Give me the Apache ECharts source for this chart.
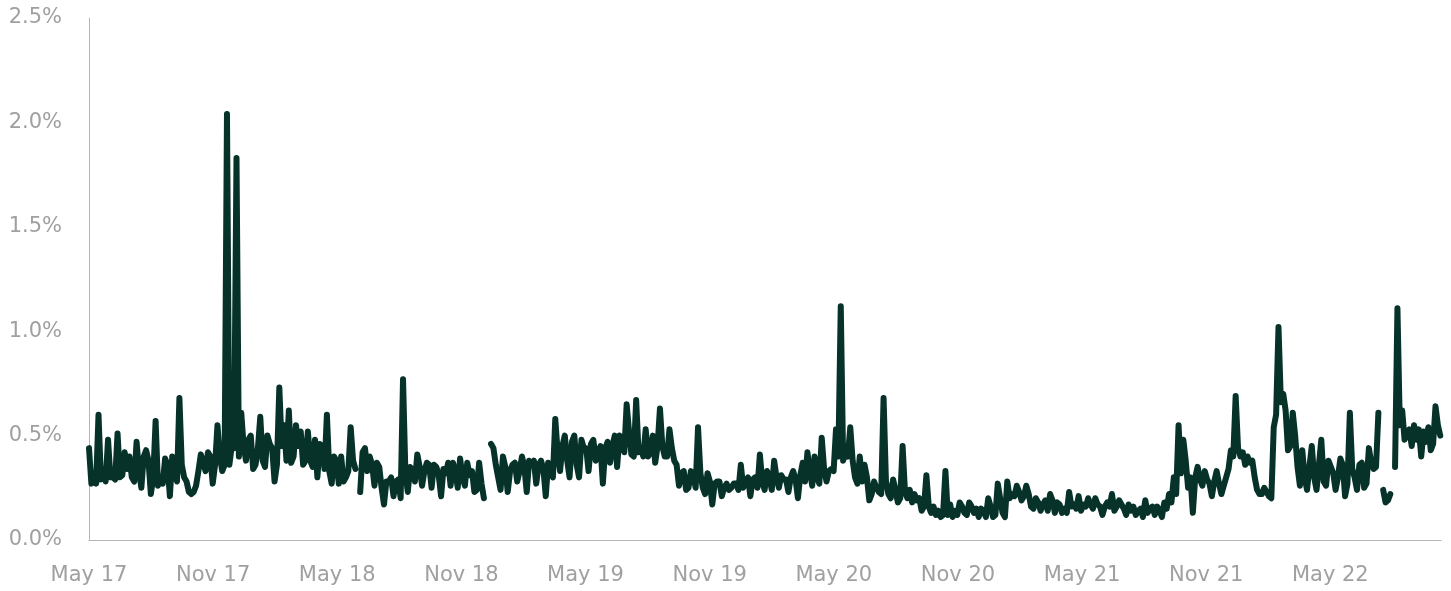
<!DOCTYPE html>
<html>
<head>
<meta charset="utf-8">
<script src="https://cdn.jsdelivr.net/npm/echarts@6/dist/echarts.min.js"></script>
<style>
  html, body { margin: 0; padding: 0; background: #fff; }
  #main { width: 1451px; height: 591px; }
</style>
</head>
<body>
<div id="main"></div>
<script>
// readings in %, one at the start of each week from 1 May 2017
var startDate = '2017-05-01'
var stepDays = 7
var values = [
    0.44, 0.32, 0.60, 0.34, 0.48, 0.30, 0.51, 0.31, 0.34, 0.30,
    0.47, 0.25, 0.43, 0.22, 0.57, 0.30, 0.39, 0.21, 0.32, 0.68,
    0.30, 0.23, 0.23, 0.33, 0.37, 0.42, 0.27, 0.55, 0.33, 2.04,
    0.45, 1.83, 0.61, 0.38, 0.50, 0.36, 0.59, 0.35, 0.46, 0.28,
    0.73, 0.55, 0.62, 0.40, 0.45, 0.36, 0.52, 0.35, 0.30, 0.45,
    0.60, 0.27, 0.38, 0.40, 0.30, 0.54, 0.34, 0.23, 0.44, 0.40,
    0.26, 0.35, 0.17, 0.28, 0.21, 0.29, 0.77, 0.23, 0.33, 0.41,
    0.26, 0.37, 0.25, 0.35, 0.21, 0.32, 0.26, 0.33, 0.39, 0.26,
    0.31, 0.23, 0.37, 0.20, null, 0.44, 0.30, 0.40, 0.23, 0.36,
    0.28, 0.40, 0.23, 0.36, 0.27, 0.38, 0.21, 0.33, 0.58, 0.33,
    0.50, 0.30, 0.50, 0.30, 0.44, 0.33, 0.48, 0.42, 0.27, 0.47,
    0.45, 0.35, 0.48, 0.65, 0.41, 0.67, 0.44, 0.53, 0.42, 0.37,
    0.63, 0.40, 0.53, 0.38, 0.26, 0.33, 0.25, 0.31, 0.54, 0.25,
    0.32, 0.17, 0.28, 0.21, 0.27, 0.25, 0.27, 0.36, 0.28, 0.21,
    0.30, 0.41, 0.24, 0.30, 0.38, 0.25, 0.29, 0.23, 0.33, 0.20,
    0.37, 0.42, 0.26, 0.30, 0.49, 0.28, 0.34, 0.53, 1.12, 0.42,
    0.54, 0.30, 0.40, 0.36, 0.19, 0.28, 0.23, 0.68, 0.22, 0.29,
    0.18, 0.45, 0.20, 0.18, 0.19, 0.14, 0.31, 0.13, 0.12, 0.11,
    0.33, 0.17, 0.14, 0.18, 0.13, 0.18, 0.13, 0.11, 0.14, 0.20,
    0.11, 0.27, 0.13, 0.28, 0.22, 0.26, 0.19, 0.26, 0.16, 0.20,
    0.14, 0.19, 0.22, 0.13, 0.17, 0.15, 0.23, 0.17, 0.21, 0.17,
    0.20, 0.15, 0.17, 0.12, 0.18, 0.22, 0.16, 0.17, 0.12, 0.14,
    0.12, 0.15, 0.19, 0.15, 0.12, 0.14, 0.18, 0.22, 0.30, 0.55,
    0.48, 0.25, 0.13, 0.35, 0.26, 0.29, 0.21, 0.33, 0.22, 0.30,
    0.43, 0.69, 0.40, 0.36, 0.37, 0.30, 0.22, 0.25, 0.21, 0.54,
    1.02, 0.70, 0.43, 0.61, 0.35, 0.43, 0.24, 0.45, 0.24, 0.48,
    0.26, 0.35, 0.24, 0.39, 0.21, 0.61, 0.30, 0.36, 0.25, 0.44,
    0.34, 0.61, 0.24, 0.19, null, 1.11, 0.62, 0.51, 0.45, 0.48,
    0.40, 0.47, 0.43, 0.64, 0.50
]
// readings half a week later (between values[i] and values[i+1])
var midWeek = [
    0.27, 0.27, 0.29, 0.28, 0.30, 0.29, 0.30, 0.42, 0.40, 0.28,
    0.33, 0.40, 0.38, 0.30, 0.26, 0.27, 0.36, 0.40, 0.28, 0.36,
    0.28, 0.22, 0.26, 0.41, 0.33, 0.40, 0.36, 0.40, 0.36, 0.36,
    0.44, 0.40, 0.45, 0.48, 0.34, 0.44, 0.38, 0.50, 0.44, 0.36,
    0.45, 0.38, 0.37, 0.55, 0.52, 0.38, 0.38, 0.48, 0.46, 0.34,
    0.33, 0.40, 0.27, 0.28, 0.33, 0.38, null, 0.42, 0.33, 0.36,
    0.37, 0.25, 0.28, 0.30, 0.28, 0.20, 0.32, 0.35, 0.28, 0.35,
    0.33, 0.36, 0.36, 0.31, 0.34, 0.37, 0.37, 0.25, 0.30, 0.37,
    0.33, 0.24, 0.27, null, 0.46, 0.36, 0.24, 0.35, 0.33, 0.37,
    0.33, 0.35, 0.38, 0.38, 0.36, 0.34, 0.37, 0.30, 0.42, 0.45,
    0.38, 0.47, 0.36, 0.48, 0.44, 0.46, 0.38, 0.45, 0.44, 0.37,
    0.50, 0.50, 0.42, 0.52, 0.40, 0.42, 0.40, 0.40, 0.50, 0.45,
    0.45, 0.40, 0.44, 0.36, 0.32, 0.24, 0.33, 0.25, 0.32, 0.22,
    0.28, 0.27, 0.28, 0.25, 0.24, 0.27, 0.24, 0.25, 0.30, 0.29,
    0.25, 0.28, 0.33, 0.24, 0.30, 0.31, 0.29, 0.30, 0.29, 0.31,
    0.28, 0.33, 0.40, 0.27, 0.34, 0.33, 0.33, 0.40, 0.38, 0.40,
    0.38, 0.27, 0.28, 0.30, 0.22, 0.25, 0.22, 0.28, 0.20, 0.24,
    0.20, 0.23, 0.24, 0.22, 0.20, 0.16, 0.16, 0.16, 0.14, 0.12,
    0.12, 0.11, 0.12, 0.16, 0.12, 0.16, 0.15, 0.15, 0.11, 0.16,
    0.12, 0.20, 0.11, 0.20, 0.21, 0.23, 0.21, 0.22, 0.15, 0.18,
    0.17, 0.14, 0.19, 0.18, 0.13, 0.13, 0.16, 0.15, 0.14, 0.16,
    0.17, 0.20, 0.16, 0.16, 0.16, 0.14, 0.19, 0.15, 0.17, 0.16,
    0.14, 0.11, 0.13, 0.16, 0.16, 0.11, 0.15, 0.18, 0.22, 0.32,
    0.38, 0.30, 0.30, 0.29, 0.33, 0.27, 0.28, 0.27, 0.26, 0.34,
    0.40, 0.44, 0.42, 0.40, 0.38, 0.24, 0.22, 0.23, 0.20, 0.60,
    0.66, 0.62, 0.45, 0.50, 0.26, 0.30, 0.35, 0.30, 0.36, 0.28,
    0.38, 0.32, 0.30, 0.36, 0.27, 0.34, 0.24, 0.37, 0.27, 0.37,
    0.35, null, 0.18, 0.22, 0.35, 0.55, 0.48, 0.53, 0.55, 0.53,
    0.52, 0.54, 0.46, 0.55
]
// x axis labels, one every 6 months
var tickLabels = ['May 17', 'Nov 17', 'May 18', 'Nov 18', 'May 19', 'Nov 19',
    'May 20', 'Nov 20', 'May 21', 'Nov 21', 'May 22']
var yTicks = [0, 0.5, 1.0, 1.5, 2.0, 2.5]

// x is months since startDate
var DAY = 86400000
var MONTH = 30.4375 * DAY
function monthsAt(days) {
    return days * DAY / MONTH
}
var seriesData = []
values.forEach(function (v, i) {
    seriesData.push([monthsAt(i * stepDays), v === null ? '-' : v])
    if (i < midWeek.length) {
        var m = midWeek[i]
        seriesData.push([monthsAt(i * stepDays + stepDays / 2), m === null ? '-' : m])
    }
})

var myChart = echarts.init(document.getElementById('main'))

var font = '"DejaVu Sans", sans-serif'
var option = {
    animation: false,
    grid: {
        left: 89,
        right: 10,
        top: 18,
        bottom: 51,
        outerBoundsMode: 'none'
    },
    xAxis: {
        type: 'value',
        min: 0,
        max: 65.35,
        interval: 6,
        axisLine: {show: true, lineStyle: {color: '#b5b5b5', width: 1}},
        axisTick: {show: false},
        splitLine: {show: false},
        axisLabel: {
            color: '#a0a0a0',
            fontFamily: font,
            fontSize: 21,
            margin: 25,
            showMaxLabel: false,
            formatter: function (v) {
                var k = v / 6
                if (Math.abs(k - Math.round(k)) > 0.01) return ''
                return tickLabels[Math.round(k)] || ''
            }
        }
    },
    yAxis: {
        type: 'value',
        min: yTicks[0],
        max: yTicks[yTicks.length - 1],
        interval: 0.5,
        axisLine: {show: true, lineStyle: {color: '#b5b5b5', width: 1}},
        axisTick: {show: false},
        splitLine: {show: false},
        axisLabel: {
            color: '#a0a0a0',
            fontFamily: font,
            fontSize: 21,
            margin: 27,
            formatter: function (v) {
                return v.toFixed(1) + '%'
            }
        }
    },
    series: [{
        type: 'line',
        data: seriesData,
        showSymbol: false,
        connectNulls: false,
        lineStyle: {
            color: '#06322a',
            width: 6,
            cap: 'round',
            join: 'round'
        }
    }]
}

myChart.setOption(option)
</script>
</body>
</html>
